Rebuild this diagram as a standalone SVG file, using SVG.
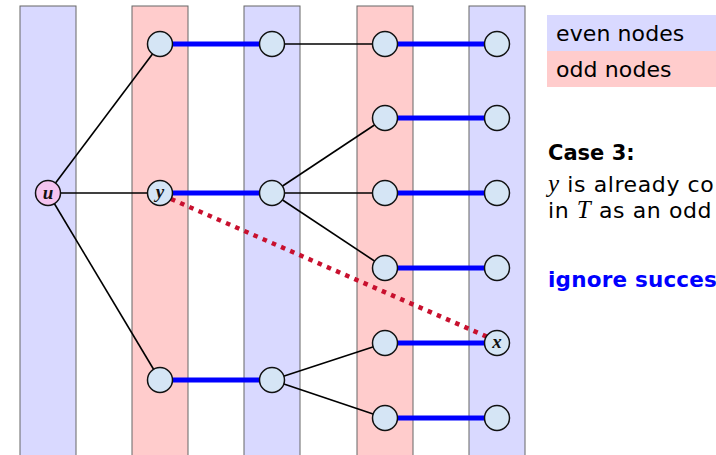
<svg xmlns="http://www.w3.org/2000/svg" width="716" height="455" viewBox="0 0 716 455">
<style>
.ce{fill:#d9d9ff;stroke:#666;stroke-width:1}
.co{fill:#ffcccc;stroke:#666;stroke-width:1}
.n{fill:#d5e5f5;stroke:#111;stroke-width:1.5}
.nu{fill:#f4c4f0;stroke:#111;stroke-width:1.5}
.m{stroke:#0000ff;stroke-width:5;fill:none}
.e{stroke:#000;stroke-width:1.6;fill:none}
.r{stroke:#c8102e;stroke-width:4.5;stroke-dasharray:4.5 5.5;fill:none}
.lbl{font-family:"Liberation Serif","DejaVu Serif",serif;font-style:italic;font-weight:bold;font-size:19px;text-anchor:middle;fill:#111}
.t{font-family:"DejaVu Sans",sans-serif;font-size:22px;fill:#000}
.mi{font-family:"Liberation Serif","DejaVu Serif",serif;font-style:italic;font-size:25px}
</style>
<g id="columns">
<rect class="ce" x="20" y="6" width="56" height="460"/>
<rect class="co" x="132" y="6" width="56" height="460"/>
<rect class="ce" x="244" y="6" width="56" height="460"/>
<rect class="co" x="357" y="6" width="56" height="460"/>
<rect class="ce" x="469" y="6" width="56" height="460"/>
</g>
<g id="legend">
<rect x="547" y="15" width="180" height="36" fill="#d9d9ff"/>
<rect x="547" y="51" width="180" height="36" fill="#ffcccc"/>
<text class="t" x="556" y="41" letter-spacing="0.1">even nodes</text>
<text class="t" x="556" y="77" letter-spacing="0.1">odd nodes</text>
</g>
<g id="connectors">
<line class="e" x1="48" y1="193" x2="160" y2="44"/>
<line class="e" x1="48" y1="193" x2="160" y2="193"/>
<line class="e" x1="48" y1="193" x2="160" y2="380"/>
<line class="e" x1="272" y1="44" x2="385" y2="44"/>
<line class="e" x1="272" y1="193" x2="385" y2="118"/>
<line class="e" x1="272" y1="193" x2="385" y2="193"/>
<line class="e" x1="272" y1="193" x2="385" y2="268"/>
<line class="e" x1="272" y1="380" x2="385" y2="343"/>
<line class="e" x1="272" y1="380" x2="385" y2="418"/>
<line class="m" x1="160" y1="44" x2="272" y2="44"/>
<line class="m" x1="160" y1="193" x2="272" y2="193"/>
<line class="m" x1="160" y1="380" x2="272" y2="380"/>
<line class="m" x1="385" y1="44" x2="497" y2="44"/>
<line class="m" x1="385" y1="118" x2="497" y2="118"/>
<line class="m" x1="385" y1="193" x2="497" y2="193"/>
<line class="m" x1="385" y1="268" x2="497" y2="268"/>
<line class="m" x1="385" y1="343" x2="497" y2="343"/>
<line class="m" x1="385" y1="418" x2="497" y2="418"/>
<line class="r" x1="171" y1="199" x2="490" y2="338"/>
</g>
<g id="node-u"><circle class="nu" cx="48" cy="193" r="12.5"/><text class="lbl" x="48" y="199">u</text></g>
<g id="node-a1"><circle class="n" cx="160" cy="44" r="12.5"/></g>
<g id="node-y"><circle class="n" cx="160" cy="193" r="12.5"/><text class="lbl" x="160" y="198">y</text></g>
<g id="node-a3"><circle class="n" cx="160" cy="380" r="12.5"/></g>
<g id="node-b1"><circle class="n" cx="272" cy="44" r="12.5"/></g>
<g id="node-b2"><circle class="n" cx="272" cy="193" r="12.5"/></g>
<g id="node-b3"><circle class="n" cx="272" cy="380" r="12.5"/></g>
<g id="node-c1"><circle class="n" cx="385" cy="44" r="12.5"/></g>
<g id="node-c2"><circle class="n" cx="385" cy="118" r="12.5"/></g>
<g id="node-c3"><circle class="n" cx="385" cy="193" r="12.5"/></g>
<g id="node-c4"><circle class="n" cx="385" cy="268" r="12.5"/></g>
<g id="node-c5"><circle class="n" cx="385" cy="343" r="12.5"/></g>
<g id="node-c6"><circle class="n" cx="385" cy="418" r="12.5"/></g>
<g id="node-d1"><circle class="n" cx="497" cy="44" r="12.5"/></g>
<g id="node-d2"><circle class="n" cx="497" cy="118" r="12.5"/></g>
<g id="node-d3"><circle class="n" cx="497" cy="193" r="12.5"/></g>
<g id="node-d4"><circle class="n" cx="497" cy="268" r="12.5"/></g>
<g id="node-x"><circle class="n" cx="497" cy="343" r="12.5"/><text class="lbl" x="497" y="348">x</text></g>
<g id="node-d6"><circle class="n" cx="497" cy="418" r="12.5"/></g>
<g id="text">
<text class="t" x="548" y="160" font-weight="bold" style="font-size:21px">Case 3:</text>
<text class="t" x="548" y="192" letter-spacing="0.6"><tspan class="mi">y</tspan> is already co</text>
<text class="t" x="548" y="218" letter-spacing="0.6">in <tspan class="mi">T</tspan> as an odd</text>
<text class="t" x="548" y="287" font-weight="bold" letter-spacing="0.2" style="fill:#0000ff;font-size:21.5px">ignore succes</text>
</g>
</svg>
